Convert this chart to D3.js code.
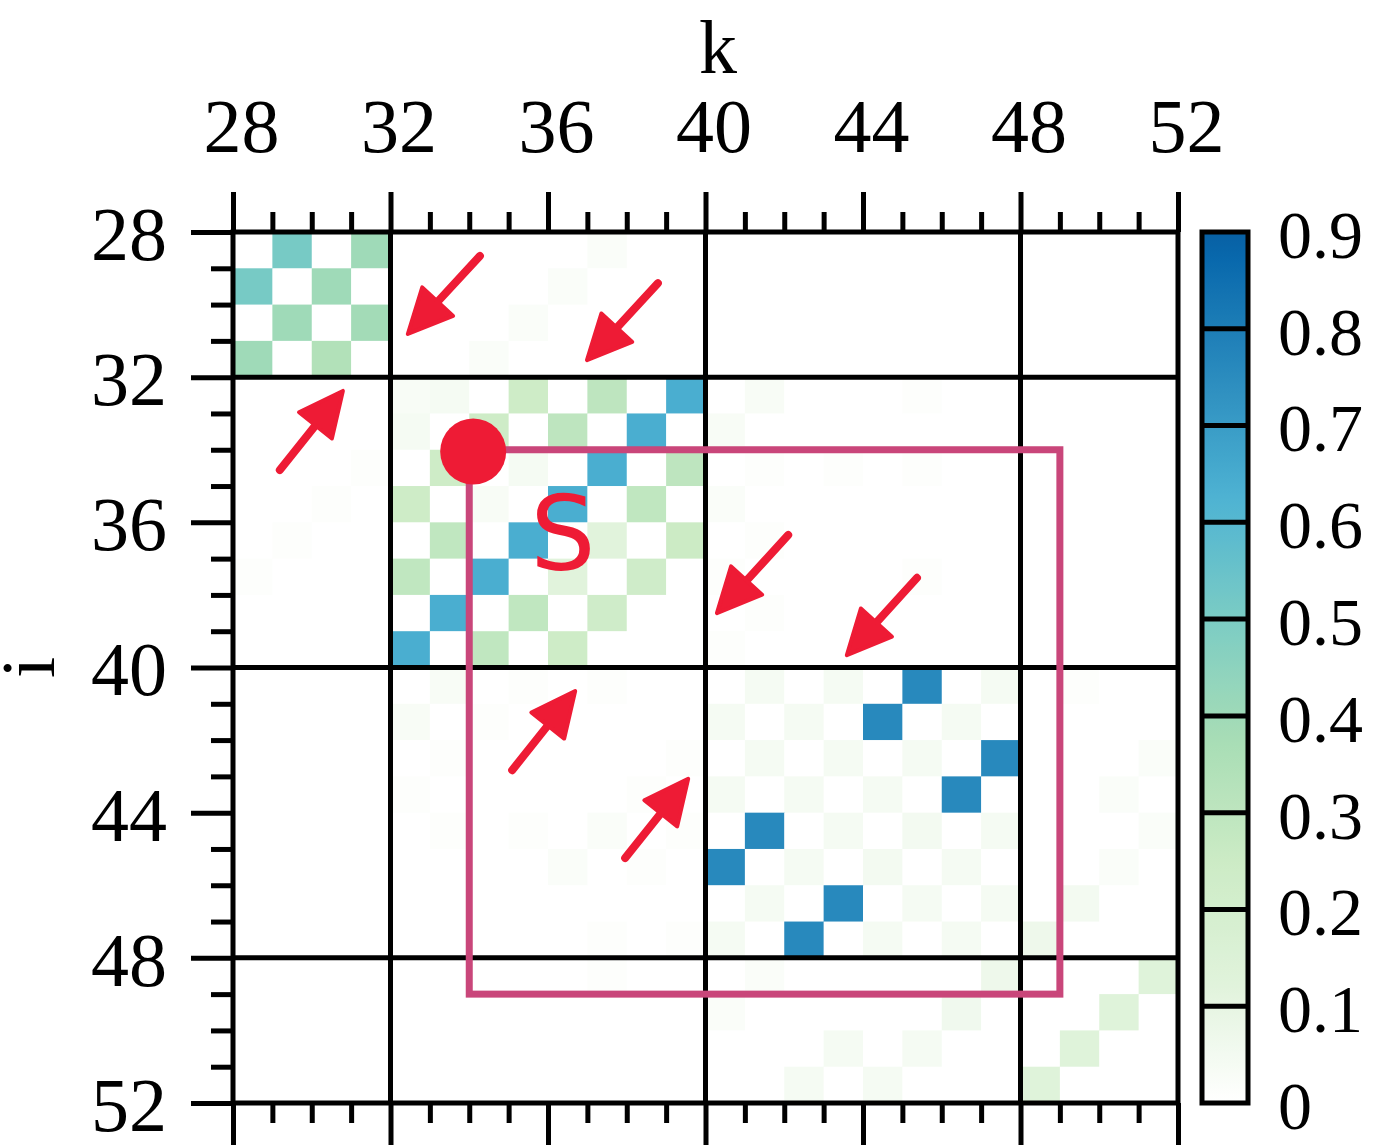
<!DOCTYPE html>
<html lang="en">
<head>
<meta charset="UTF-8">
<title>Heatmap i vs k</title>
<script src="https://cdn.jsdelivr.net/npm/d3@7/dist/d3.min.js"></script>
<style>
	body { margin: 0; background: #fff; }
	text { font-family: "Liberation Serif", "Times New Roman", serif; fill: #000; }
	.axis path.domain { display: none; }
	.axis line { stroke: #000; stroke-width: 5; }
	.axis text { font-size: 76px; font-family: "Liberation Serif", serif; }
</style>
</head>
<body>
<svg width="1373" height="1145"></svg>
<script>
	// index range (rows i and columns k)
	const indexStart = 28, indexEnd = 52;
	const majorTicks = [28, 32, 36, 40, 44, 48, 52];
	const blockLines = [32, 40, 48];
	const cbTicks = [0, 0.1, 0.2, 0.3, 0.4, 0.5, 0.6, 0.7, 0.8, 0.9];
	const cbLabels = ["0", "0.1", "0.2", "0.3", "0.4", "0.5", "0.6", "0.7", "0.8", "0.9"];

	// one row per i = 28..51, columns k = 28..51
	const values = [
		[0,0.51,0,0.40, 0,0,0,0,0,0.02,0,0, 0,0,0,0,0,0,0,0, 0,0,0,0],
		[0.51,0,0.40,0, 0,0,0,0,0.02,0,0,0, 0,0,0,0,0,0,0,0, 0,0,0,0],
		[0,0.40,0,0.39, 0,0,0,0.02,0,0,0,0, 0,0,0,0,0,0,0,0, 0,0,0,0],
		[0.40,0,0.34,0, 0,0,0.02,0,0,0,0,0, 0,0,0,0,0,0,0,0, 0,0,0,0],
		[0,0,0,0, 0.03,0.04,0,0.24,0,0.30,0,0.64, 0,0.03,0,0,0,0.01,0,0, 0,0,0,0],
		[0,0,0,0, 0.04,0,0.24,0,0.30,0,0.64,0, 0.03,0,0,0,0,0,0,0, 0,0,0,0],
		[0,0,0,0.01, 0,0.24,0,0.04,0,0.64,0,0.30, 0,0.01,0,0.01,0,0.01,0,0, 0,0,0,0],
		[0,0,0.01,0, 0.24,0,0.03,0,0.64,0,0.29,0, 0.02,0,0,0,0,0,0,0, 0,0,0,0],
		[0,0.01,0,0, 0,0.29,0,0.64,0,0.12,0,0.25, 0,0.01,0,0,0,0,0,0, 0,0,0,0],
		[0.01,0,0,0, 0.29,0,0.64,0,0.12,0,0.23,0, 0.01,0,0,0,0,0.01,0,0, 0,0,0,0],
		[0,0,0,0, 0,0.64,0,0.29,0,0.23,0,0, 0,0.01,0,0,0,0,0,0, 0,0,0,0],
		[0,0,0,0, 0.64,0,0.29,0,0.24,0,0,0, 0.01,0,0,0,0,0,0,0, 0,0,0,0],
		[0,0,0,0, 0,0.03,0,0.01,0,0.01,0,0, 0,0.04,0,0.04,0,0.76,0,0.04, 0,0.01,0,0],
		[0,0,0,0, 0.03,0,0.01,0,0,0,0,0, 0.04,0,0.04,0,0.76,0,0.04,0, 0,0,0,0],
		[0,0,0,0, 0,0.01,0,0,0,0,0,0.01, 0,0.04,0,0.04,0,0.04,0,0.76, 0,0,0,0.02],
		[0,0,0,0, 0.01,0,0,0,0,0,0.01,0, 0.04,0,0.04,0,0.04,0,0.76,0, 0,0,0.02,0],
		[0,0,0,0, 0,0.01,0,0.01,0,0.02,0,0.01, 0,0.76,0,0.04,0,0.05,0,0.04, 0,0,0,0.02],
		[0,0,0,0, 0,0,0,0,0.02,0,0.01,0, 0.76,0,0.04,0,0.05,0,0.04,0, 0,0,0.02,0],
		[0,0,0,0, 0,0,0,0,0,0,0,0, 0,0.04,0,0.76,0,0.04,0,0.04, 0,0.05,0,0],
		[0,0,0,0, 0,0,0,0,0,0.01,0,0.01, 0.04,0,0.76,0,0.04,0,0.04,0, 0.07,0,0,0],
		[0,0,0,0, 0,0,0,0,0,0.01,0,0, 0,0.02,0,0,0,0,0,0.07, 0,0,0,0.13],
		[0,0,0,0, 0,0,0,0,0,0,0,0, 0.02,0,0,0,0,0,0.06,0, 0,0,0.13,0],
		[0,0,0,0, 0,0,0,0,0,0,0,0, 0,0,0,0.04,0,0.04,0,0, 0,0.13,0,0],
		[0,0,0,0, 0,0,0,0,0,0,0,0, 0,0,0.04,0,0.04,0,0,0, 0.13,0,0,0]
	];

	// annotations, in (k, i) units
	const arrows = [
		{ from: [34.27, 28.66], to: [32.44, 30.81] },
		{ from: [38.79, 29.41], to: [36.99, 31.53] },
		{ from: [29.19, 34.56], to: [30.79, 32.38] },
		{ from: [42.10, 36.35], to: [40.29, 38.50] },
		{ from: [45.37, 37.53], to: [43.59, 39.66] },
		{ from: [35.09, 42.83], to: [36.69, 40.65] },
		{ from: [37.96, 45.25], to: [39.56, 43.07] }
	];
	const boxCorners = [[34, 34], [49, 49]];
	const dotCenter = [34.1, 34.05];
	const boxLabel = { text: "S", k: 36.38, i: 37.31 };

	const red = "#ee1b35", pink = "#c9467a";

	const svg = d3.select("svg");
	svg.append("rect").attr("width", 1373).attr("height", 1145).attr("fill", "#fff");

	const x = d3.scaleLinear().domain([indexStart, indexEnd]).range([233, 1178]);
	const y = d3.scaleLinear().domain([indexStart, indexEnd]).range([232, 1103]);

	// GnBu, starting from white at zero
	const gnbu = ["#ffffff"].concat(d3.schemeGnBu[9].slice(1));
	const color = d3.scaleLinear()
		.domain(d3.range(9).map(n => n / 8))
		.range(gnbu)
		.interpolate(d3.interpolateRgb);

	// cells
	const cells = [];
	values.forEach((row, r) => row.forEach((v, c) => {
		cells.push({ i: indexStart + r, k: indexStart + c, v: v });
	}));
	svg.append("g").selectAll("rect")
		.data(cells)
		.enter()
		.append("rect")
		.attr("x", d => x(d.k))
		.attr("y", d => y(d.i))
		.attr("width", d => x(d.k + 1) - x(d.k) + 0.5)
		.attr("height", d => y(d.i + 1) - y(d.i) + 0.5)
		.attr("fill", d => color(d.v));

	// block lines and frame
	const grid = svg.append("g").attr("stroke", "#000").attr("stroke-width", 5);
	grid.selectAll(".vl").data(blockLines).enter().append("line")
		.attr("x1", d => x(d)).attr("x2", d => x(d))
		.attr("y1", y(indexStart)).attr("y2", y(indexEnd));
	grid.selectAll(".hl").data(blockLines).enter().append("line")
		.attr("y1", d => y(d)).attr("y2", d => y(d))
		.attr("x1", x(indexStart)).attr("x2", x(indexEnd));
	grid.append("rect")
		.attr("x", x(indexStart)).attr("y", y(indexStart))
		.attr("width", x(indexEnd) - x(indexStart))
		.attr("height", y(indexEnd) - y(indexStart))
		.attr("fill", "none");

	// axes
	const minorTicks = d3.range(indexStart, indexEnd + 1).filter(v => v % 4 !== 0);
	const topMajor = svg.append("g").attr("class", "axis")
		.attr("transform", `translate(0,${y(indexStart)})`)
		.call(d3.axisTop(x).tickValues(majorTicks).tickSize(40).tickPadding(40).tickFormat(d3.format("d")));
	topMajor.selectAll("text").attr("dx", 8);
	svg.append("g").attr("class", "axis")
		.attr("transform", `translate(0,${y(indexStart)})`)
		.call(d3.axisTop(x).tickValues(minorTicks).tickSize(20).tickFormat(""));
	svg.append("g").attr("class", "axis")
		.attr("transform", `translate(0,${y(indexEnd)})`)
		.call(d3.axisBottom(x).tickValues(majorTicks).tickSize(45).tickFormat(""));
	svg.append("g").attr("class", "axis")
		.attr("transform", `translate(0,${y(indexEnd)})`)
		.call(d3.axisBottom(x).tickValues(minorTicks).tickSize(20).tickFormat(""));
	const leftMajor = svg.append("g").attr("class", "axis")
		.attr("transform", `translate(${x(indexStart)},0)`)
		.call(d3.axisLeft(y).tickValues(majorTicks).tickSize(42).tickPadding(24).tickFormat(d3.format("d")));
	leftMajor.selectAll("text").attr("dy", "0.36em");
	svg.append("g").attr("class", "axis")
		.attr("transform", `translate(${x(indexStart)},0)`)
		.call(d3.axisLeft(y).tickValues(minorTicks).tickSize(22).tickFormat(""));

	svg.append("text")
		.attr("x", 718).attr("y", 73)
		.attr("text-anchor", "middle")
		.style("font-size", "76px")
		.text("k");
	svg.append("text")
		.attr("transform", `translate(54,${(y(indexStart) + y(indexEnd)) / 2}) rotate(-90)`)
		.attr("text-anchor", "middle")
		.style("font-size", "76px")
		.text("i");

	// colorbar
	const cb = d3.scaleLinear().domain([0, 0.9]).range([y(indexEnd), y(indexStart)]);
	const grad = svg.append("defs").append("linearGradient")
		.attr("id", "cbgrad")
		.attr("x1", 0).attr("y1", 1).attr("x2", 0).attr("y2", 0);
	grad.selectAll("stop")
		.data(d3.range(0, 91).map(n => n / 100))
		.enter().append("stop")
		.attr("offset", d => d / 0.9)
		.attr("stop-color", d => color(d));
	const cbX = 1202, cbW = 46;
	svg.append("rect")
		.attr("x", cbX).attr("y", cb(0.9))
		.attr("width", cbW).attr("height", cb(0) - cb(0.9))
		.attr("fill", "url(#cbgrad)");
	svg.append("g").selectAll("line")
		.data(cbTicks.slice(1, -1))
		.enter().append("line")
		.attr("x1", cbX).attr("x2", cbX + cbW)
		.attr("y1", d => cb(d)).attr("y2", d => cb(d))
		.attr("stroke", "#000").attr("stroke-width", 5);
	svg.append("rect")
		.attr("x", cbX).attr("y", cb(0.9))
		.attr("width", cbW).attr("height", cb(0) - cb(0.9))
		.attr("fill", "none").attr("stroke", "#000").attr("stroke-width", 5);
	svg.append("g").selectAll("text")
		.data(cbTicks)
		.enter().append("text")
		.attr("x", 1278)
		.attr("y", d => cb(d))
		.attr("dy", "0.38em")
		.style("font-size", "68px")
		.text((d, n) => cbLabels[n]);

	// annotations
	const ann = svg.append("g");
	ann.append("rect")
		.attr("x", x(boxCorners[0][0])).attr("y", y(boxCorners[0][1]))
		.attr("width", x(boxCorners[1][0]) - x(boxCorners[0][0]))
		.attr("height", y(boxCorners[1][1]) - y(boxCorners[0][1]))
		.attr("fill", "none").attr("stroke", pink).attr("stroke-width", 7);
	ann.append("circle")
		.attr("cx", x(dotCenter[0])).attr("cy", y(dotCenter[1]))
		.attr("r", 33).attr("fill", red);
	ann.append("text")
		.attr("x", x(boxLabel.k)).attr("y", y(boxLabel.i))
		.attr("text-anchor", "middle")
		.style("font-family", "'DejaVu Sans', sans-serif")
		.style("font-size", "103px")
		.style("fill", red)
		.text(boxLabel.text);

	arrows.forEach(a => {
		const x0 = x(a.from[0]), y0 = y(a.from[1]);
		const x1 = x(a.to[0]), y1 = y(a.to[1]);
		const len = Math.hypot(x1 - x0, y1 - y0);
		const ux = (x1 - x0) / len, uy = (y1 - y0) / len;
		const headLen = 44, halfW = 21;
		const bx = x1 - ux * headLen, by = y1 - uy * headLen;
		ann.append("line")
			.attr("x1", x0).attr("y1", y0)
			.attr("x2", bx + ux * 4).attr("y2", by + uy * 4)
			.attr("stroke", red).attr("stroke-width", 8)
			.attr("stroke-linecap", "round");
		ann.append("path")
			.attr("d", `M${x1},${y1}L${bx - uy * halfW},${by + ux * halfW}L${bx + uy * halfW},${by - ux * halfW}Z`)
			.attr("fill", red).attr("stroke", red)
			.attr("stroke-width", 4).attr("stroke-linejoin", "round");
	});
</script>
</body>
</html>
